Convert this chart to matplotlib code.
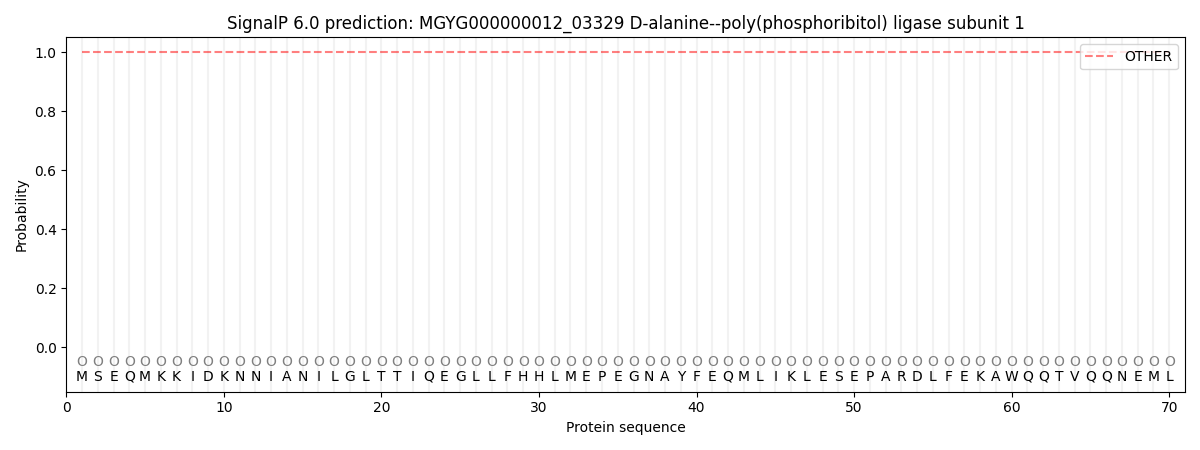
import matplotlib
matplotlib.use("Agg")
import matplotlib.pyplot as plt
import numpy as np

# sequence and per-residue prediction
sequence = "MSEQMKKIDKNNIANILGLTTIQEGLLFHHLMEPEGNAYFEQMLIKLESEPARDLFEKAWQQTVQQNEML"
labels = ["O"] * len(sequence)
other_prob = [1.0] * len(sequence)

positions = np.arange(1, len(sequence) + 1)

fig, ax = plt.subplots(figsize=(12, 4.5), dpi=100)

# light grid line at every residue
for p in positions:
    ax.axvline(p, color="#f2f2f2", linewidth=1.5, zorder=0)

ax.plot(positions, other_prob, linestyle="--", color="red", alpha=0.5, label="OTHER")

for p, lab, aa in zip(positions, labels, sequence):
    ax.text(p, -0.05, lab, ha="center", va="center", color="gray", fontsize=10)
    ax.text(p, -0.1, aa, ha="center", va="center", color="black", fontsize=10)

ax.set_xlim(0, len(sequence) + 1)
ax.set_ylim(-0.15, 1.05)
ax.set_xlabel("Protein sequence")
ax.set_ylabel("Probability")
ax.set_title("SignalP 6.0 prediction: MGYG000000012_03329 D-alanine--poly(phosphoribitol) ligase subunit 1")
ax.legend(loc="upper right")

plt.tight_layout()
plt.savefig("out.png")
